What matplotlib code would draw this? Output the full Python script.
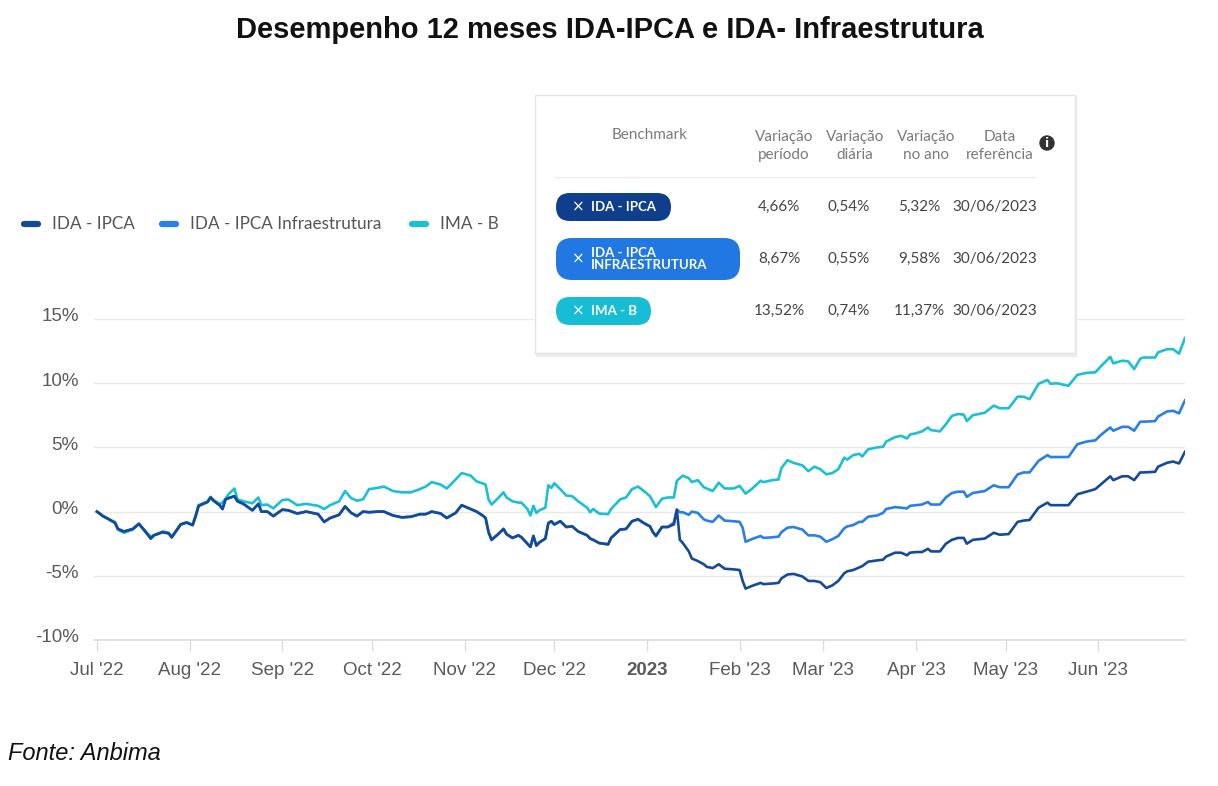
import numpy as np
import pandas as pd
import matplotlib
matplotlib.use("Agg")
import matplotlib.pyplot as plt
import matplotlib.dates as mdates
import matplotlib.transforms as mtransforms
from matplotlib.patches import FancyBboxPatch, Rectangle, Circle
from matplotlib.lines import Line2D

plt.rcParams['font.family'] = ['Liberation Sans', 'DejaVu Sans']

# ---- data ----
start_date = "2022-07-01"
days = [0, 2, 4, 6, 7, 9, 12, 14, 16, 18, 19, 22, 24, 25, 28, 30, 32, 33, 34, 37,
        38, 39, 41, 42, 43, 44, 46, 47, 49, 52, 54, 55, 57, 59, 62, 64, 67, 70, 74, 76,
        78, 81, 83, 85, 87, 89,
        91, 94, 96, 99, 102, 105, 108, 110, 112, 115, 117, 120, 122, 125, 127, 129, 130, 131, 132, 134,
        136, 137, 139, 141, 142, 144, 145, 146, 147, 148, 150, 151, 152, 153, 155, 157, 159, 161, 164, 165,
        166, 168, 171, 172, 175, 177, 179, 181, 183,
        185, 186, 187, 189, 191, 193, 194, 195, 196, 198, 199, 201, 203, 204, 206, 208, 210, 213, 215, 216,
        217, 219, 222, 223, 226, 228, 229, 231, 233, 236, 238, 240, 242, 244, 246, 248, 250, 251, 253, 255,
        256, 258, 261, 263, 264, 267, 269, 271, 272, 274, 276, 278, 279, 282, 284, 286, 288, 290, 291, 293,
        297, 300, 302, 305, 308, 310, 312, 315, 318, 319, 321, 325, 328, 331, 334, 336, 339, 340, 343, 345,
        347, 349, 350, 354, 355, 358, 360, 362, 364]

ida_ipca = [0.0, -0.35, -0.6, -0.85, -1.35, -1.55, -1.35, -0.95, -1.5, -2.1, -1.85, -1.6, -1.7, -2.0, -1.0, -0.85, -1.05, -0.35, 0.45, 0.75,
            1.1, 0.85, 0.5, 0.2, 0.95, 1.05, 1.2, 0.8, 0.6, 0.1, 0.6, 0.0, 0.0, -0.35, 0.15, 0.1, -0.15, 0.0, -0.2, -0.8,
            -0.5, -0.25, 0.4, -0.1, -0.35, 0.0,
            -0.05, 0.0, 0.0, -0.3, -0.45, -0.4, -0.2, -0.2, 0.0, -0.15, -0.5, -0.1, 0.5, 0.2, 0.0, -0.3, -0.5, -1.6, -2.2, -1.8,
            -1.35, -1.75, -2.05, -1.85, -2.0, -2.5, -2.75, -1.9, -2.65, -2.4, -2.1, -0.9, -0.75, -1.0, -0.75, -1.2, -1.15, -1.55, -1.85, -2.1,
            -2.2, -2.45, -2.55, -2.05, -1.4, -1.35, -0.75, -0.6, -0.9,
            -1.15, -1.6, -1.9, -1.2, -1.2, -1.0, 0.15, -2.2, -2.45, -3.1, -3.65, -3.85, -4.1, -4.3, -4.4, -4.1, -4.45, -4.5, -4.55, -5.4,
            -6.0, -5.8, -5.55, -5.65, -5.6, -5.55, -5.2, -4.9, -4.85, -5.05, -5.4, -5.4, -5.5, -5.95, -5.75, -5.4, -4.8, -4.65, -4.55, -4.35,
            -4.25, -3.9, -3.8, -3.75, -3.5, -3.2, -3.2, -3.4, -3.2, -3.15, -3.15, -2.9, -3.1, -3.1, -2.5, -2.2, -2.05, -2.05, -2.5, -2.2,
            -2.1, -1.65, -1.8, -1.75, -0.8, -0.7, -0.65, 0.3, 0.7, 0.5, 0.5, 0.5, 1.35, 1.55, 1.75, 2.15, 2.75, 2.45, 2.75, 2.75,
            2.45, 3.05, 3.05, 3.1, 3.5, 3.8, 3.9, 3.75, 4.66]

ida_infra = [0.0, -0.35, -0.6, -0.85, -1.35, -1.55, -1.35, -0.95, -1.5, -2.1, -1.85, -1.6, -1.7, -2.0, -1.0, -0.85, -1.05, -0.35, 0.45, 0.75,
             1.1, 0.85, 0.5, 0.2, 0.95, 1.05, 1.2, 0.8, 0.6, 0.1, 0.6, 0.0, 0.0, -0.35, 0.15, 0.1, -0.15, 0.0, -0.2, -0.8,
             -0.5, -0.25, 0.4, -0.1, -0.35, 0.0,
             -0.05, 0.0, 0.0, -0.3, -0.45, -0.4, -0.2, -0.2, 0.0, -0.15, -0.5, -0.1, 0.5, 0.2, 0.0, -0.3, -0.5, -1.6, -2.2, -1.8,
             -1.35, -1.75, -2.05, -1.85, -2.0, -2.5, -2.75, -1.9, -2.65, -2.4, -2.1, -0.9, -0.75, -1.0, -0.75, -1.2, -1.15, -1.55, -1.85, -2.1,
             -2.2, -2.45, -2.55, -2.05, -1.4, -1.35, -0.75, -0.6, -0.9,
             -1.15, -1.6, -1.9, -1.2, -1.2, -0.85, 0.15, -0.05, -0.05, -0.25, 0.0, -0.1, -0.6, -0.7, -0.8, -0.3, -0.7, -0.75, -0.8, -1.25,
             -2.35, -2.15, -1.9, -2.05, -2.0, -1.95, -1.6, -1.25, -1.2, -1.4, -1.85, -1.85, -1.95, -2.35, -2.15, -1.9, -1.3, -1.15, -1.05, -0.8,
             -0.8, -0.4, -0.3, -0.1, 0.2, 0.35, 0.3, 0.25, 0.45, 0.5, 0.55, 0.75, 0.55, 0.55, 1.1, 1.45, 1.55, 1.55, 1.15, 1.45,
             1.6, 2.05, 1.9, 1.9, 2.9, 3.05, 3.05, 3.95, 4.4, 4.25, 4.25, 4.25, 5.25, 5.45, 5.55, 6.0, 6.55, 6.3, 6.6, 6.6,
             6.3, 7.0, 7.0, 7.05, 7.4, 7.8, 7.85, 7.65, 8.67]

ima_b = [0.0, -0.35, -0.6, -0.9, -1.4, -1.65, -1.4, -0.95, -1.5, -1.95, -1.85, -1.55, -1.65, -2.0, -1.0, -0.85, -1.05, -0.35, 0.5, 0.8,
         1.15, 0.9, 0.6, 0.7, 1.0, 1.35, 1.8, 0.95, 0.8, 0.65, 1.1, 0.5, 0.55, 0.25, 0.9, 0.95, 0.5, 0.6, 0.45, 0.2,
         0.5, 0.8, 1.6, 1.05, 0.85, 0.95,
         1.75, 1.85, 1.95, 1.6, 1.5, 1.5, 1.75, 1.95, 2.3, 2.1, 1.8, 2.5, 3.0, 2.8, 2.35, 2.2, 2.1, 0.95, 0.55, 1.0,
         1.5, 1.1, 0.8, 0.7, 0.7, 0.2, -0.3, 0.45, -0.1, 0.1, 0.3, 2.05, 1.85, 2.2, 1.75, 1.25, 1.2, 0.8, 0.3, -0.05,
         0.2, -0.15, -0.2, 0.2, 0.95, 1.1, 1.75, 1.95, 1.6,
         1.2, 0.8, 0.35, 1.0, 1.1, 1.1, 2.4, 2.6, 2.8, 2.6, 2.3, 2.45, 1.9, 1.8, 1.6, 2.25, 1.8, 1.8, 2.0, 1.7,
         1.4, 1.75, 2.4, 2.3, 2.45, 2.5, 3.4, 4.0, 3.8, 3.6, 3.15, 3.5, 3.3, 2.9, 3.0, 3.3, 4.2, 4.05, 4.4, 4.5,
         4.3, 4.85, 5.0, 5.05, 5.45, 5.8, 5.9, 5.7, 6.0, 6.1, 6.25, 6.55, 6.35, 6.25, 6.8, 7.45, 7.6, 7.55, 7.05, 7.5,
         7.7, 8.25, 8.05, 8.05, 8.95, 8.95, 8.75, 9.95, 10.25, 9.95, 10.0, 9.8, 10.65, 10.8, 10.85, 11.35, 12.05, 11.55, 11.75, 11.7,
         11.1, 11.9, 12.0, 12.0, 12.4, 12.65, 12.65, 12.3, 13.52]

series_names = ["IDA - IPCA", "IDA - IPCA Infraestrutura", "IMA - B"]
series_colors = ["#154a98", "#2a7fe6", "#1bbfd6"]

month_labels = ["Jul '22", "Aug '22", "Sep '22", "Oct '22", "Nov '22", "Dec '22", "2023",
                "Feb '23", "Mar '23", "Apr '23", "May '23", "Jun '23"]
y_ticks = [-10, -5, 0, 5, 10, 15]

table_header = ["Benchmark", "Variação\nperíodo", "Variação\ndiária", "Variação\nno ano", "Data\nreferência"]
pill_labels = ["IDA - IPCA", "IDA - IPCA\nINFRAESTRUTURA", "IMA - B"]
var_periodo = ["4,66%", "8,67%", "13,52%"]
var_diaria = ["0,54%", "0,55%", "0,74%"]
var_ano = ["5,32%", "9,58%", "11,37%"]
data_ref = ["30/06/2023", "30/06/2023", "30/06/2023"]

# ---- figure ----
W, H = 1218, 786
fig = plt.figure(figsize=(W / 100, H / 100), dpi=100)
fig.patch.set_facecolor("white")

ax_l, ax_r, ax_t, ax_b = 94, 1185, 319, 640
ax = fig.add_axes([ax_l / W, 1 - ax_b / H, (ax_r - ax_l) / W, (ax_b - ax_t) / H])

dates = pd.Timestamp(start_date) + pd.to_timedelta(days, unit="D")
x = mdates.date2num(dates)

for vals, col, z in zip([ima_b, ida_infra, ida_ipca], series_colors[::-1], [3, 4, 5]):
    ax.plot(x, vals, color=col, lw=1.9, zorder=z, solid_joinstyle="round")

x0 = mdates.date2num(pd.Timestamp(start_date) - pd.Timedelta(days=1))
x1 = mdates.date2num(pd.Timestamp("2023-06-30"))
ax.set_xlim(x0, x1)
ax.set_ylim(-10, 15)

ax.set_yticks(y_ticks)
ax.set_yticklabels([f"{v}%" for v in y_ticks])
ax.yaxis.grid(True, color="#e9e9e9", lw=1)
ax.set_axisbelow(True)

month_starts = pd.date_range("2022-07-01", "2023-06-01", freq="MS")
ax.set_xticks(mdates.date2num(month_starts))
ax.set_xticklabels(month_labels)
for lab in ax.get_xticklabels():
    if lab.get_text() == "2023":
        lab.set_fontweight("bold")
        lab.set_color("#222222")

for s in ["top", "right", "left"]:
    ax.spines[s].set_visible(False)
ax.spines["bottom"].set_color("#d8dde6")
ax.spines["bottom"].set_linewidth(1.2)
ax.tick_params(axis="y", length=0, pad=11, labelsize=13.5, labelcolor="#5a5a5a")
ax.tick_params(axis="x", length=8, width=1, color="#d8dde6", pad=8, labelsize=13.5, labelcolor="#5a5a5a")
# labels sit a few pixels above their gridline
shift = mtransforms.ScaledTranslation(0, 4 / 100, fig.dpi_scale_trans)
for lab in ax.get_yticklabels():
    lab.set_transform(lab.get_transform() + shift)

# ---- overlay in pixel coordinates ----
ov = fig.add_axes([0, 0, 1, 1], zorder=10)
ov.set_xlim(0, W)
ov.set_ylim(H, 0)
ov.axis("off")
ov.patch.set_alpha(0)

ov.text(610, 30, "Desempenho 12 meses IDA-IPCA e IDA- Infraestrutura", ha="center", va="center",
        fontsize=21, fontweight="bold", color="#111111")
ov.text(8, 754, "Fonte: Anbima", ha="left", va="center", fontsize=17, fontstyle="italic", color="#111111")

# legend
leg_x = [22, 160, 410]
for lx, name, col in zip(leg_x, series_names, series_colors):
    ov.add_line(Line2D([lx + 2, lx + 16], [224, 224], color=col, lw=4.5, solid_capstyle="round"))
    ov.text(lx + 30, 224, name, ha="left", va="center", fontsize=12.3, color="#555555", family=["Lato", "DejaVu Sans"])

# table box
ov.add_patch(Rectangle((537, 97), 538, 258, facecolor="white", edgecolor="#ededed", lw=2.5))
ov.add_patch(Rectangle((535, 95), 540, 258, facecolor="white", edgecolor="#e4e4e4", lw=1))

hdr_x = [650, 784, 855, 926, 1000]
for hx, h in zip(hdr_x, table_header):
    ov.text(hx, 146 if "\n" in h else 135, h, ha="center", va="center", fontsize=11, color="#7a7a7a",
            linespacing=1.35, family=["Lato", "DejaVu Sans"])
ov.add_patch(Circle((1047, 143), 7, color="#333333"))
ov.text(1047, 143.5, "i", ha="center", va="center", fontsize=9, fontweight="bold", color="white",
        family=["DejaVu Sans"])
ov.add_line(Line2D([555, 1035], [177, 177], color="#ececec", lw=1))

pill_colors = ["#0f3f8c", "#2178e3", "#17bdd5"]
row_y = [207, 259, 311]
pill_boxes = [(556, 193, 115, 28), (556, 238, 184, 42), (556, 297, 95, 28)]
for (px, py, pw, ph), lab, col, ry in zip(pill_boxes, pill_labels, pill_colors, row_y):
    ov.add_patch(FancyBboxPatch((px, py), pw, ph, boxstyle=f"round,pad=0,rounding_size={ph / 2 if ph < 30 else 16}",
                                facecolor=col, edgecolor="none"))
    cy = py + ph / 2
    ov.text(578, cy, "×", ha="center", va="center", fontsize=11, color="white", family=["DejaVu Sans"])
    ov.text(591, cy, lab, ha="left", va="center", fontsize=9.5, fontweight="bold", color="white",
            linespacing=0.95, family=["Lato", "DejaVu Sans"])

for col_x, vals in zip([779, 849, 919, 995], [var_periodo, var_diaria, var_ano, data_ref]):
    for ry, v in zip(row_y, vals):
        ov.text(col_x, ry, v, ha="center", va="center", fontsize=11, color="#444444",
                family=["Lato", "DejaVu Sans"])

fig.savefig("out.png", dpi=100, facecolor="white")
